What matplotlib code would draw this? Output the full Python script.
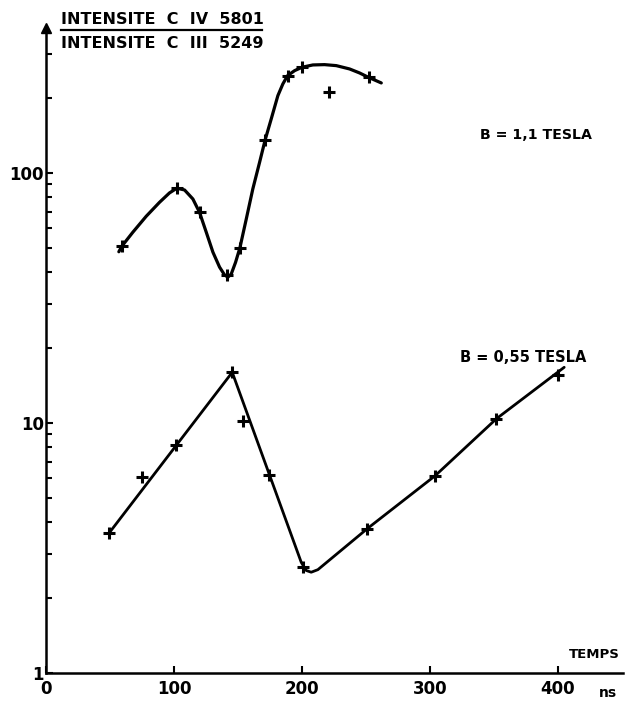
import matplotlib
matplotlib.use("Agg")
import matplotlib.pyplot as plt
from matplotlib.lines import Line2D
from matplotlib.ticker import FixedLocator, FixedFormatter, LogLocator, NullFormatter

# ---- data ----
x_ticks = [0, 100, 200, 300, 400]
x_ticklabels = ["0", "100", "200", "300", "400"]
y_ticks = [1, 10, 100]
y_ticklabels = ["1", "10", "100"]

# B = 1,1 tesla : measured points
b11_t = [59, 102, 120, 141, 151, 171, 189, 200, 221, 252]
b11_ratio = [50.9, 86.9, 69.6, 39.1, 50.2, 135.9, 245, 264.8, 210, 241.5]
# B = 1,1 tesla : hand-drawn curve, read point by point
b11_curve_t = [56.6, 58.9, 67.5, 78.0, 88.4, 96.2, 102.0, 108.0, 114.5, 119.7,
               125.0, 130.2, 135.4, 139.3, 141.9, 144.5, 147.9, 151.3, 156.3,
               161.4, 166.7, 171.1, 175.8, 181.0, 184.9, 188.6, 194.1, 200.0,
               208.4, 217.5, 226.7, 237.1, 244.9, 251.7, 261.9]
b11_curve_ratio = [48.4, 50.9, 57.9, 67.1, 76.3, 83.2, 86.9, 85.5, 78.7, 69.6,
                   57.9, 48.2, 42.0, 39.1, 38.3, 39.4, 43.9, 50.2, 65.5,
                   86.3, 110.3, 135.9, 164.4, 203.8, 227.0, 245.0, 256.6, 264.8,
                   270.4, 271.2, 268.7, 260.6, 251.2, 241.5, 229.1]

# B = 0,55 tesla : measured points
b055_t = [49, 75, 101, 145, 154, 174, 201, 251, 304, 352, 400]
b055_ratio = [3.63, 6.06, 8.17, 15.95, 10.2, 6.21, 2.66, 3.77, 6.15, 10.4, 15.5]
# B = 0,55 tesla : drawn line
b055_line_t = [49, 145.3, 199.3, 203.2, 207.1, 212.3, 251, 304, 352, 405]
b055_line_ratio = [3.63, 15.95, 2.77, 2.57, 2.53, 2.59, 3.78, 6.15, 10.4, 16.7]

W, H = 626, 703
fig = plt.figure(figsize=(W / 100, H / 100), dpi=100)
plt.rcParams['font.family'] = ['DejaVu Sans']

def fx(px):
    return px / W

def fy(py):
    return 1 - py / H

ax = fig.add_axes([fx(46.5), fy(673), (623 - 46.5) / W, (673 - 28) / H])
ax.set_yscale("log")
ax.set_xlim(0, 451)
ax.set_ylim(1, 380)

for s in ["top", "right"]:
    ax.spines[s].set_visible(False)
for s in ["left", "bottom"]:
    ax.spines[s].set_linewidth(1.8)

# arrows on axes
ax.plot(1, 0, ">k", markersize=7, transform=ax.get_yaxis_transform(), clip_on=False)
ax.plot(0, 1, "^k", markersize=7, transform=ax.get_xaxis_transform(), clip_on=False)

ax.xaxis.set_major_locator(FixedLocator(x_ticks))
ax.xaxis.set_major_formatter(FixedFormatter(x_ticklabels))
ax.yaxis.set_major_locator(FixedLocator(y_ticks))
ax.yaxis.set_major_formatter(FixedFormatter(y_ticklabels))
ax.yaxis.set_minor_locator(LogLocator(base=10, subs=range(2, 10)))
ax.yaxis.set_minor_formatter(NullFormatter())

ax.tick_params(axis="both", which="major", direction="in", length=5, width=1.5,
               labelsize=12, colors="black")
ax.tick_params(axis="y", which="minor", direction="in", length=4, width=1.5)
ax.tick_params(axis="x", pad=5)
ax.tick_params(axis="y", pad=2)
for lab in ax.get_xticklabels() + ax.get_yticklabels():
    lab.set_fontweight("bold")

# curves
ax.plot(b11_curve_t, b11_curve_ratio, color="black", lw=2.3,
        solid_capstyle="round", solid_joinstyle="round")
ax.plot(b11_t, b11_ratio, linestyle="none", marker="+", color="black",
        markersize=9, markeredgewidth=2.2)
ax.plot(b055_line_t, b055_line_ratio, color="black", lw=2.0,
        solid_capstyle="round", solid_joinstyle="round")
ax.plot(b055_t, b055_ratio, linestyle="none", marker="+", color="black",
        markersize=9, markeredgewidth=2.2)

# title fraction
fig.text(fx(61), fy(19), "INTENSITE  C  IV  5801", ha="left", va="center",
         fontsize=11.5, fontweight="bold")
fig.text(fx(61), fy(43), "INTENSITE  C  III  5249", ha="left", va="center",
         fontsize=11.5, fontweight="bold")
fig.add_artist(Line2D([fx(61), fx(262)], [fy(29.5), fy(29.5)], color="black", lw=1.6))

# annotations
fig.text(fx(480), fy(135), "B = 1,1 TESLA", ha="left", va="center",
         fontsize=10.2, fontweight="bold")
fig.text(fx(460), fy(358), "B = 0,55 TESLA", ha="left", va="center",
         fontsize=10.5, fontweight="bold")
fig.text(fx(620), fy(655), "TEMPS", ha="right", va="center",
         fontsize=9.5, fontweight="bold")
fig.text(fx(617), fy(693), "ns", ha="right", va="center",
         fontsize=10, fontweight="bold")

fig.savefig("out.png", dpi=100)
